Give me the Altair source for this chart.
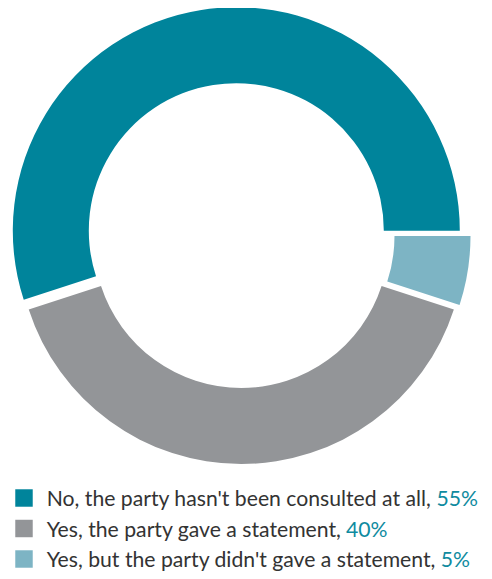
import math
import altair as alt
import pandas as pd

# ---- data ----
categories = [
    "No, the party hasn't been consulted at all",
    "Yes, the party gave a statement",
    "Yes, but the party didn't gave a statement",
]
values = [55, 40, 5]
stack_order = [2, 1, 0]  # drawing order round the ring (light blue first)
colors = ["#00849b", "#939598", "#7db4c4"]

df = pd.DataFrame({"category": categories, "value": values, "order": stack_order})

# ---- layout ----
W, H = 476, 563
R_OUT, R_IN = 223.5, 147.5
centers = {  # exploded slice centres (chart px)
    categories[0]: (228.3, 222.7),
    categories[1]: (233.3, 232.5),
    categories[2]: (239.0, 228.0),
}
pct_x = {  # left edge of the percentage text in each legend row (chart px)
    categories[0]: 428.5,
    categories[1]: 337.9,
    categories[2]: 432.7,
}
ROW_Y = [490, 551]
FONT = "Lato"
FS = 21.2
TEXT_DARK = "#333333"
PCT_COLOR = "#0f8ba0"

theta_scale = alt.Scale(domain=[0, sum(values)], range=[math.pi / 2, math.pi / 2 + 2 * math.pi])
color_scale = alt.Scale(domain=categories, range=colors)

base = (
    alt.Chart(df)
    .transform_window(end="sum(value)", sort=[alt.SortField("order")], frame=[None, 0])
    .transform_calculate(start="datum.end - datum.value")
)

arcs = []
for cat in categories:
    cx, cy = centers[cat]
    arcs.append(
        base.transform_filter(alt.datum.category == cat)
        .mark_arc(radius=R_OUT, radius2=R_IN)
        .encode(
            theta=alt.Theta("start:Q", scale=theta_scale),
            theta2="end:Q",
            color=alt.Color("category:N", scale=color_scale, legend=None),
            x=alt.value(cx),
            y=alt.value(cy),
        )
    )

y_rows = alt.Y("category:N", sort=categories, scale=alt.Scale(range=ROW_Y, type="point", padding=0), axis=None)

squares = alt.Chart(df).mark_square(size=305, opacity=1).encode(
    x=alt.value(16),
    y=y_rows,
    color=alt.Color("category:N", scale=color_scale, legend=None),
)

labels = alt.Chart(df).transform_calculate(
    pct="datum.value + '%'",
    prefix="datum.category + ','",
)

dark_text = labels.mark_text(
    align="left", baseline="alphabetic", dy=8, font=FONT, fontSize=FS, color=TEXT_DARK
).encode(x=alt.value(38.7), y=y_rows, text="prefix:N")

pct_layers = []
for cat in categories:
    pct_layers.append(
        labels.transform_filter(alt.datum.category == cat)
        .mark_text(align="left", baseline="alphabetic", dy=8, font=FONT, fontSize=FS, color=PCT_COLOR)
        .encode(x=alt.value(pct_x[cat]), y=y_rows, text="pct:N")
    )

chart = (
    alt.layer(*arcs, squares, dark_text, *pct_layers)
    .properties(width=W, height=H, padding=0, autosize=alt.AutoSizeParams(type="none"))
    .configure_view(stroke=None)
)

chart.save("out.html", embed_options={"renderer": "svg", "actions": False})
